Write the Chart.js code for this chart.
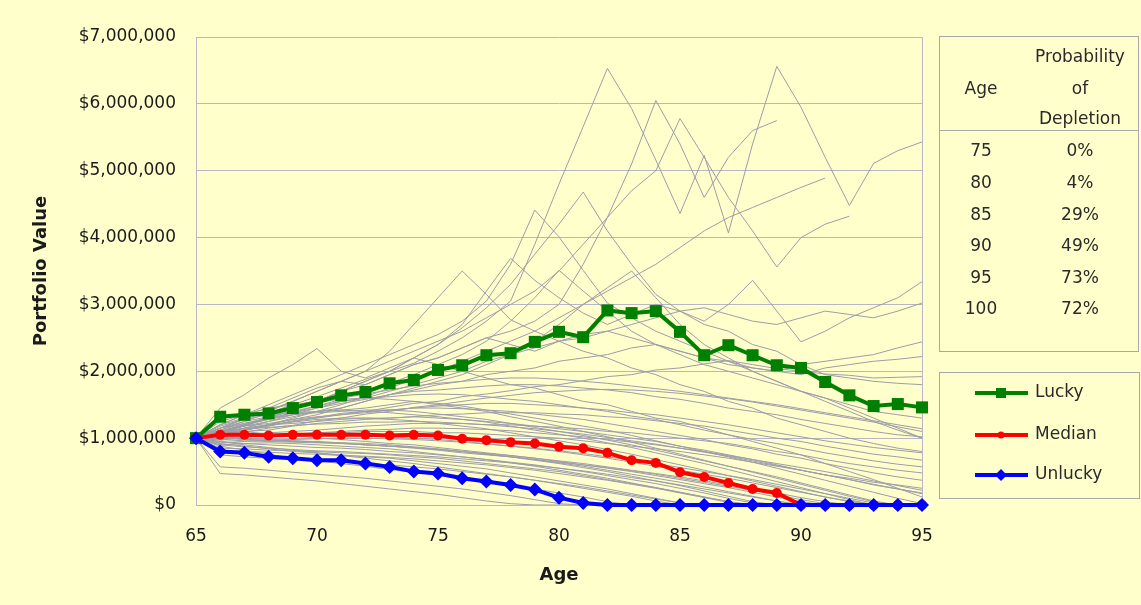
<!DOCTYPE html>
<html>
<head>
<meta charset="utf-8">
<script src="https://cdn.jsdelivr.net/npm/chart.js@4/dist/chart.umd.min.js"></script>
<style>
html,body{margin:0;padding:0;background:#FFFFCC;}
#wrap{width:1141px;height:605px;position:relative;}
canvas{display:block;}
</style>
</head>
<body>
<div id="wrap"><canvas id="c" width="1141" height="605"></canvas></div>
<script>
// ---- categories (age) ----
const ages = [65,66,67,68,69,70,71,72,73,74,75,76,77,78,79,80,81,82,83,84,85,86,87,88,89,90,91,92,93,94,95];

// ---- highlighted series (values in $ millions) ----
const lucky   = [1.00,1.32,1.35,1.37,1.45, 1.54,1.64,1.69,1.82,1.87, 2.02,2.09,2.24,2.27,2.44, 2.59,2.51,2.91,2.87,2.90, 2.59,2.24,2.39,2.24,2.09, 2.05,1.84,1.64,1.48,1.51, 1.46];
const median  = [1.00,1.05,1.05,1.04,1.05, 1.05,1.05,1.05,1.04,1.05, 1.04,0.99,0.97,0.94,0.92, 0.87,0.85,0.78,0.67,0.63, 0.49,0.42,0.33,0.24,0.18, 0,0,0,0,0, 0];
const unlucky = [1.00,0.80,0.78,0.72,0.70, 0.67,0.67,0.62,0.57,0.50, 0.47,0.40,0.35,0.30,0.23, 0.11,0.03,0,0,0, 0,0,0,0,0, 0,0,0,0,0, 0];
const seriesNames = ['Lucky','Median','Unlucky'];

// ---- simulated paths (values in $ millions) ----
const sim01 = [1.00,1.12,1.25,1.38,1.50, 1.62,1.75,1.88,2.00,2.12, 2.30,2.50,2.75,3.05,3.90, 4.80,5.66,6.53,5.93,5.16, 4.36,5.23,4.07,5.40,6.56, 5.95,5.20,4.48,5.11,5.30, 5.43];
const sim02 = [1.00,1.10,1.20,1.30,1.45, 1.55,1.70,1.80,1.95,2.10, 2.20,2.35,2.50,2.60,2.75, 3.00,3.60,4.30,5.10,6.05, 5.40,4.60,5.20,5.60,5.75, null,null,null,null,null, null];
const sim03 = [1.00,1.15,1.30,1.42,1.55, 1.70,1.85,2.00,2.15,2.30, 2.45,2.60,2.80,3.00,3.20, 3.50,3.90,4.30,4.70,5.00, 5.78,5.20,4.60,4.10,3.56, 4.00,4.20,4.32,null,null, null];
const sim04 = [1.00,1.05,1.12,1.20,1.30, 1.40,1.50,1.62,1.75,1.88, 2.00,2.15,2.30,2.45,2.60, 2.80,3.00,3.20,3.40,3.60, 3.85,4.10,4.30,4.45,4.60, 4.75,4.89,null,null,null, null];
const sim05 = [1.00,1.20,1.35,1.50,1.65, 1.80,1.95,2.10,2.25,2.40, 2.55,2.75,3.05,3.60,4.41, 4.01,3.51,3.02,2.80,2.60, 2.45,2.30,2.15,2.00,1.85, 1.70,1.55,1.40,1.25,1.12, 1.00];
const sim06 = [1.00,1.10,1.20,1.32,1.45, 1.55,1.70,1.85,2.00,2.20, 2.40,2.65,2.95,3.30,3.75, 4.20,4.68,4.10,3.60,3.15, 2.90,2.70,2.60,2.40,2.30, 2.10,1.95,1.90,1.85,1.82, 1.80];
const sim07 = [1.00,1.15,1.28,1.40,1.55, 1.70,1.85,2.00,2.30,2.70, 3.10,3.50,3.15,2.77,2.60, 2.45,2.30,2.20,2.05,1.95, 1.80,1.70,1.55,1.45,1.30, 1.20,1.10,1.00,0.92,0.85, 0.80];
const sim08 = [1.00,1.08,1.18,1.30,1.42, 1.55,1.70,1.85,2.00,2.20, 2.40,2.70,3.20,3.69,3.36, 3.10,2.87,2.70,2.85,3.00, 2.90,2.75,3.00,3.36,2.90, 2.44,2.60,2.80,2.95,3.10, 3.34];
const sim09 = [1.00,1.45,1.65,1.90,2.10, 2.34,2.00,1.90,2.05,2.20, 2.10,2.00,1.90,1.80,1.75, 1.65,1.55,1.50,1.40,1.30, 1.25,1.15,1.05,0.95,0.85, 0.75,0.62,0.50,0.38,0.25, 0.12];
const sim10 = [1.00,1.05,1.12,1.20,1.28, 1.35,1.45,1.55,1.65,1.75, 1.85,1.95,2.10,2.25,2.45, 2.70,3.00,3.25,3.50,3.10, 2.70,2.40,2.20,2.00,1.85, 1.70,1.60,1.50,1.40,1.35, 1.30];
const sim11 = [1.00,1.10,1.20,1.28,1.38, 1.48,1.58,1.70,1.82,1.95, 2.10,2.25,2.45,2.75,3.10, 3.51,3.20,2.90,2.60,2.40, 2.25,2.10,2.00,1.90,1.80, 1.70,1.60,1.45,1.30,1.15, 1.00];
const sim12 = [1.00,1.10,1.18,1.25,1.35, 1.45,1.55,1.60,1.70,1.80, 1.90,2.00,2.15,2.25,2.35, 2.45,2.50,2.60,2.70,2.80, 2.90,2.95,2.85,2.75,2.70, 2.80,2.90,2.85,2.80,2.90, 3.02];
const sim13 = [1.00,1.08,1.15,1.25,1.32, 1.40,1.45,1.55,1.65,1.72, 1.80,1.85,1.95,2.00,2.05, 2.15,2.20,2.25,2.35,2.40, 2.30,2.20,2.10,2.05,2.00, 2.10,2.15,2.20,2.25,2.35, 2.44];
const sim14 = [1.00,1.20,1.35,1.45,1.60, 1.75,1.85,1.80,1.95,2.10, 2.20,2.35,2.50,2.40,2.30, 2.45,2.55,2.60,2.50,2.40, 2.30,2.20,2.15,2.05,2.00, 1.95,2.05,2.10,2.15,2.18, 2.22];
const sim15 = [1.00,1.06,1.12,1.18,1.26, 1.31,1.37,1.40,1.46,1.52, 1.55,1.62,1.66,1.71,1.77, 1.80,1.86,1.92,1.95,2.02, 2.05,2.11,2.16,2.10,2.04, 2.00,1.96,1.94,1.90,1.91, 1.92];
const sim16 = [1.00,1.12,1.22,1.30,1.38, 1.45,1.52,1.58,1.65,1.70, 1.72,1.75,1.78,1.80,1.80, 1.78,1.75,1.72,1.68,1.62, 1.58,1.52,1.45,1.40,1.35, 1.28,1.22,1.16,1.10,1.05, 1.02];
const sim17 = [1.00,1.08,1.12,1.18,1.25, 1.30,1.35,1.38,1.42,1.45, 1.48,1.50,1.52,1.52,1.50, 1.48,1.45,1.42,1.38,1.35, 1.30,1.25,1.20,1.14,1.08, 1.02,0.96,0.91,0.86,0.82, 0.78];
const sim18 = [1.00,1.05,1.10,1.12,1.18, 1.22,1.25,1.28,1.30,1.32, 1.35,1.36,1.38,1.38,1.38, 1.36,1.35,1.32,1.30,1.26, 1.22,1.18,1.12,1.06,1.00, 0.95,0.88,0.82,0.76,0.72, 0.67];
const sim19 = [1.00,1.15,1.25,1.32,1.40, 1.48,1.55,1.60,1.62,1.65, 1.66,1.65,1.62,1.58,1.55, 1.50,1.45,1.40,1.33,1.28, 1.20,1.12,1.05,0.98,0.92, 0.85,0.78,0.72,0.66,0.61, 0.57];
const sim20 = [1.00,1.02,1.05,1.08,1.10, 1.12,1.15,1.18,1.20,1.22, 1.22,1.22,1.20,1.20,1.18, 1.16,1.14,1.10,1.08,1.04, 1.00,0.96,0.92,0.86,0.80, 0.75,0.68,0.62,0.57,0.52, 0.48];
const sim21 = [1.00,1.10,1.18,1.22,1.28, 1.32,1.35,1.40,1.42,1.45, 1.45,1.44,1.42,1.40,1.36, 1.32,1.28,1.22,1.16,1.10, 1.04,0.98,0.90,0.84,0.76, 0.70,0.62,0.55,0.48,0.42, 0.37];
const sim22 = [1.00,1.00,1.02,1.05,1.06, 1.08,1.08,1.10,1.10,1.10, 1.08,1.08,1.06,1.04,1.02, 1.00,0.96,0.92,0.88,0.84, 0.80,0.75,0.70,0.64,0.58, 0.52,0.45,0.40,0.34,0.30, 0.25];
const sim23 = [1.00,1.08,1.15,1.20,1.22, 1.25,1.28,1.30,1.30,1.32, 1.30,1.28,1.25,1.22,1.18, 1.14,1.10,1.05,1.00,0.95, 0.88,0.82,0.75,0.68,0.60, 0.52,0.45,0.38,0.30,0.24, 0.18];
const sim24 = [1.00,0.47,0.45,0.42,0.39, 0.36,0.32,0.28,0.24,0.20, 0.16,0.11,0.06,0.02,0, 0,0,0,0,0, 0,0,0,0,0, 0,0,0,0,0, 0];
const sim25 = [1.00,0.57,0.55,0.52,0.49, 0.46,0.43,0.40,0.36,0.32, 0.28,0.24,0.19,0.14,0.08, 0.02,0,0,0,0, 0,0,0,0,0, 0,0,0,0,0, 0];
const sim26 = [1.00,0.88,0.82,0.76,0.70, 0.66,0.62,0.58,0.53,0.49, 0.45,0.40,0.35,0.30,0.24, 0.18,0.12,0.05,0,0, 0,0,0,0,0, 0,0,0,0,0, 0];
const sim27 = [1.00,0.92,0.88,0.84,0.80, 0.78,0.75,0.72,0.70,0.66, 0.62,0.58,0.54,0.48,0.42, 0.36,0.30,0.24,0.17,0.10, 0.03,0,0,0,0, 0,0,0,0,0, 0];
const sim28 = [1.00,0.95,0.92,0.90,0.88, 0.86,0.85,0.83,0.80,0.78, 0.75,0.72,0.68,0.64,0.60, 0.55,0.50,0.44,0.38,0.32, 0.25,0.18,0.10,0.03,0, 0,0,0,0,0, 0];
const sim29 = [1.00,1.05,1.00,0.98,0.96, 0.95,0.93,0.90,0.88,0.86, 0.83,0.80,0.76,0.72,0.67, 0.62,0.56,0.50,0.43,0.36, 0.29,0.21,0.13,0.05,0, 0,0,0,0,0, 0];
const sim30 = [1.00,0.98,0.96,0.95,0.94, 0.93,0.92,0.90,0.88,0.85, 0.82,0.78,0.75,0.72,0.68, 0.64,0.60,0.56,0.51,0.46, 0.40,0.34,0.28,0.22,0.15, 0.08,0.02,0,0,0, 0];
const sim31 = [1.00,1.12,1.10,1.06,1.04, 1.00,0.98,0.95,0.92,0.90, 0.86,0.82,0.78,0.74,0.70, 0.65,0.60,0.55,0.50,0.44, 0.38,0.32,0.26,0.19,0.12, 0.05,0,0,0,0, 0];
const sim32 = [1.00,0.85,0.84,0.82,0.81, 0.80,0.78,0.77,0.75,0.72, 0.70,0.66,0.62,0.58,0.54, 0.50,0.44,0.38,0.32,0.26, 0.19,0.12,0.05,0,0, 0,0,0,0,0, 0];
const sim33 = [1.00,1.08,1.15,1.20,1.24, 1.28,1.30,1.30,1.28,1.26, 1.22,1.18,1.14,1.08,1.02, 0.96,0.90,0.83,0.76,0.68, 0.60,0.52,0.44,0.36,0.28, 0.20,0.12,0.05,0,0, 0];
const sim34 = [1.00,1.02,1.04,1.05,1.05, 1.05,1.04,1.03,1.02,1.00, 0.98,0.95,0.92,0.88,0.84, 0.80,0.75,0.70,0.64,0.58, 0.52,0.46,0.40,0.33,0.26, 0.19,0.12,0.06,0.01,0, 0];
const sim35 = [1.00,0.90,0.92,0.93,0.92, 0.90,0.88,0.86,0.84,0.80, 0.76,0.72,0.68,0.63,0.58, 0.52,0.46,0.40,0.33,0.26, 0.19,0.12,0.05,0,0, 0,0,0,0,0, 0];
const sim36 = [1.00,1.18,1.28,1.35,1.38, 1.40,1.42,1.40,1.38,1.35, 1.32,1.28,1.24,1.18,1.12, 1.06,1.00,0.93,0.86,0.78, 0.70,0.62,0.53,0.44,0.35, 0.26,0.17,0.08,0,0, 0];
const sim37 = [1.00,0.95,0.90,0.86,0.82, 0.78,0.74,0.70,0.66,0.62, 0.57,0.52,0.47,0.42,0.37, 0.31,0.25,0.19,0.13,0.06, 0,0,0,0,0, 0,0,0,0,0, 0];
const sim38 = [1.00,1.00,0.98,0.97,0.96, 0.94,0.92,0.90,0.88,0.86, 0.83,0.80,0.77,0.74,0.70, 0.66,0.62,0.57,0.52,0.47, 0.42,0.36,0.30,0.24,0.18, 0.11,0.05,0,0,0, 0];
const sim39 = [1.00,1.25,1.35,1.45,1.50, 1.55,1.58,1.60,1.58,1.55, 1.50,1.45,1.40,1.32,1.25, 1.18,1.10,1.02,0.94,0.85, 0.76,0.67,0.58,0.49,0.40, 0.31,0.22,0.13,0.05,0, 0];
const sim40 = [1.00,1.10,1.20,1.28,1.35, 1.40,1.42,1.45,1.50,1.55, 1.52,1.48,1.42,1.36,1.30, 1.24,1.18,1.12,1.04,0.96, 0.88,0.80,0.72,0.64,0.55, 0.46,0.37,0.28,0.19,0.10, 0.02];
const sim41 = [1.00,0.75,0.72,0.70,0.68, 0.66,0.64,0.62,0.60,0.57, 0.54,0.50,0.46,0.42,0.37, 0.32,0.27,0.21,0.15,0.09, 0.03,0,0,0,0, 0,0,0,0,0, 0];
const sim42 = [1.00,1.02,0.98,0.96,0.95, 0.94,0.93,0.92,0.90,0.87, 0.84,0.80,0.76,0.72,0.68, 0.63,0.58,0.52,0.46,0.40, 0.34,0.27,0.20,0.13,0.06, 0,0,0,0,0, 0];
const sim43 = [1.00,1.15,1.22,1.30,1.35, 1.38,1.40,1.42,1.42,1.40, 1.36,1.32,1.28,1.22,1.16, 1.10,1.04,0.97,0.90,0.82, 0.74,0.66,0.58,0.50,0.42, 0.33,0.24,0.15,0.06,0, 0];
const sim44 = [1.00,0.93,0.95,0.97,0.98, 0.99,1.00,1.00,0.99,0.98, 0.96,0.94,0.91,0.88,0.85, 0.81,0.77,0.72,0.67,0.62, 0.56,0.50,0.44,0.38,0.31, 0.24,0.17,0.10,0.03,0, 0];
const sim45 = [1.00,1.10,1.14,1.16,1.19, 1.21,1.22,1.24,1.24,1.25, 1.24,1.22,1.20,1.17,1.14, 1.10,1.06,1.01,0.96,0.91, 0.85,0.79,0.73,0.66,0.59, 0.52,0.45,0.38,0.31,0.24, 0.17];
const sim46 = [1.00,0.82,0.80,0.79,0.77, 0.76,0.74,0.73,0.71,0.69, 0.66,0.63,0.60,0.56,0.52, 0.47,0.42,0.37,0.31,0.25, 0.18,0.11,0.04,0,0, 0,0,0,0,0, 0];
const sim47 = [1.00,1.20,1.30,1.38,1.46, 1.52,1.60,1.66,1.72,1.78, 1.82,1.85,1.88,1.90,1.90, 1.88,1.85,1.82,1.78,1.74, 1.70,1.65,1.60,1.55,1.50, 1.44,1.38,1.32,1.26,1.20, 1.14];
const sim48 = [1.00,0.97,1.01,1.03,1.06, 1.08,1.10,1.12,1.13,1.15, 1.15,1.14,1.13,1.11,1.08, 1.05,1.02,0.98,0.94,0.90, 0.85,0.80,0.74,0.68,0.62, 0.56,0.50,0.43,0.36,0.29, 0.22];
const sim49 = [1.00,1.04,1.09,1.15,1.19, 1.26,1.30,1.36,1.40,1.46, 1.50,1.55,1.60,1.64,1.68, 1.70,1.72,1.73,1.72,1.70, 1.67,1.63,1.59,1.54,1.48, 1.42,1.36,1.30,1.24,1.17, 1.10];
const sim50 = [1.00,0.90,0.87,0.85,0.83, 0.81,0.80,0.78,0.76,0.74, 0.72,0.69,0.66,0.63,0.59, 0.55,0.51,0.46,0.41,0.36, 0.30,0.24,0.18,0.12,0.06, 0,0,0,0,0, 0];
const simPaths = [sim01,sim02,sim03,sim04,sim05,sim06,sim07,sim08,sim09,sim10,sim11,sim12,sim13,sim14,sim15,sim16,sim17,sim18,sim19,sim20,sim21,sim22,sim23,sim24,sim25,sim26,sim27,sim28,sim29,sim30,sim31,sim32,sim33,sim34,sim35,sim36,sim37,sim38,sim39,sim40,sim41,sim42,sim43,sim44,sim45,sim46,sim47,sim48,sim49,sim50];

// ---- depletion table ----
const tableAges  = ['75','80','85','90','95','100'];
const tableProbs = ['0%','4%','29%','49%','73%','72%'];
const tableHeaderAge  = 'Age';
const tableHeaderProb = ['Probability','of','Depletion'];

// ---- axis ----
const yMax = 7000000;
const yStep = 1000000;

const toDollars = arr => arr.map(v => v === null ? null : Math.round(v * 1000000));

const BG = '#FFFFCC';
const GRID = '#b6b6c6';
const GRAY = '#9d9da8';
const FONT = 'DejaVu Sans';
Chart.defaults.font.family = FONT;

const datasets = [];
datasets.push({label: seriesNames[2], data: toDollars(unlucky), borderColor:'#0000FF', backgroundColor:'#0000FF', borderWidth:4, pointStyle:'rectRot', pointRadius:7, pointBorderWidth:0, order:0, clip:false});
datasets.push({label: seriesNames[1], data: toDollars(median), borderColor:'#FF0000', backgroundColor:'#FF0000', borderWidth:4, pointStyle:'circle', pointRadius:5, pointBorderWidth:0, order:1, clip:false});
datasets.push({label: seriesNames[0], data: toDollars(lucky), borderColor:'#008000', backgroundColor:'#008000', borderWidth:4, pointStyle:'rect', pointRadius:8.5, pointBorderWidth:0, order:2, clip:false});
simPaths.forEach((p, i) => datasets.push({label: 'sim' + (i+1), data: toDollars(p), borderColor: GRAY, borderWidth: 1, pointRadius: 0, order: 10, spanGaps:false}));

const bgPlugin = {
  id: 'bg',
  beforeDraw(chart) {
    const ctx = chart.ctx;
    ctx.save();
    ctx.fillStyle = BG;
    ctx.fillRect(0, 0, chart.width, chart.height);
    ctx.restore();
  }
};

function drawMarker(ctx, style, x, y, r, color) {
  ctx.fillStyle = color;
  ctx.beginPath();
  if (style === 'rect') {
    ctx.rect(x - r, y - r, 2*r, 2*r);
  } else if (style === 'rectRot') {
    ctx.moveTo(x - r, y); ctx.lineTo(x, y - r); ctx.lineTo(x + r, y); ctx.lineTo(x, y + r); ctx.closePath();
  } else {
    ctx.arc(x, y, r, 0, Math.PI*2);
  }
  ctx.fill();
}

const sidePlugin = {
  id: 'side',
  afterDraw(chart) {
    const ctx = chart.ctx;
    ctx.save();
    // table box
    ctx.strokeStyle = '#a8a8a8';
    ctx.lineWidth = 1;
    ctx.strokeRect(939.5, 36.5, 199, 315);
    ctx.beginPath(); ctx.moveTo(939.5, 130.5); ctx.lineTo(1138.5, 130.5); ctx.stroke();
    ctx.fillStyle = '#2a2a2a';
    ctx.font = '17px "' + FONT + '"';
    ctx.textAlign = 'center';
    ctx.textBaseline = 'middle';
    ctx.fillText(tableHeaderAge, 981, 90);
    ctx.fillText(tableHeaderProb[0], 1080, 58);
    ctx.fillText(tableHeaderProb[1], 1080, 90);
    ctx.fillText(tableHeaderProb[2], 1080, 120);
    tableAges.forEach((a, i) => {
      const y = 152 + i * 31.6;
      ctx.fillText(a, 981, y);
      ctx.fillText(tableProbs[i], 1080, y);
    });
    // legend box
    ctx.strokeRect(939.5, 372.5, 200, 126);
    const items = [chart.data.datasets[2], chart.data.datasets[1], chart.data.datasets[0]];
    const ys = [393, 435, 475];
    const mr = {rect: 5, circle: 3.5, rectRot: 6};
    items.forEach((ds, i) => {
      const y = ys[i];
      ctx.strokeStyle = ds.borderColor;
      ctx.lineWidth = 4;
      ctx.beginPath(); ctx.moveTo(975, y); ctx.lineTo(1028, y); ctx.stroke();
      drawMarker(ctx, ds.pointStyle, 1001, y, mr[ds.pointStyle], ds.borderColor);
      ctx.fillStyle = '#2a2a2a';
      ctx.textAlign = 'left';
      ctx.fillText(ds.label, 1035, y);
    });
    ctx.restore();
  }
};

new Chart(document.getElementById('c'), {
  type: 'line',
  data: { labels: ages, datasets },
  options: {
    responsive: false,
    animation: false,
    devicePixelRatio: 1,
    layout: { padding: { left: 0, top: 37, right: 219, bottom: 0 } },
    elements: { line: { tension: 0 } },
    plugins: { legend: { display: false }, tooltip: { enabled: false } },
    scales: {
      x: {
        type: 'category',
        offset: false,
        afterFit(s) { s.height = 100; },
        grid: {
          color: (c) => (c.index === 0 || c.index === ages.length - 1) ? GRID : 'rgba(0,0,0,0)',
          drawTicks: false,
          lineWidth: 1
        },
        border: { display: true, color: GRID, width: 1 },
        ticks: {
          autoSkip: false,
          maxRotation: 0,
          padding: 21,
          color: '#1a1a1a',
          font: { size: 17 },
          callback(v, i) { const a = ages[i]; return a % 5 === 0 ? String(a) : ''; }
        },
        title: { display: true, text: 'Age', color: '#1a1a1a', font: { size: 18, weight: 'bold' }, padding: { top: 0, bottom: 19 } }
      },
      y: {
        min: 0,
        max: yMax,
        afterFit(s) { s.width = 196; },
        grid: { color: GRID, drawTicks: false, lineWidth: 1 },
        border: { display: true, color: GRID, width: 1 },
        ticks: {
          stepSize: yStep,
          padding: 20,
          color: '#1a1a1a',
          font: { size: 17 },
          callback(v) { return '$' + Number(v).toLocaleString('en-US'); }
        },
        title: { display: true, text: 'Portfolio Value', color: '#1a1a1a', font: { size: 18, weight: 'bold' }, padding: { top: 31, bottom: 0 } }
      }
    }
  },
  plugins: [bgPlugin, sidePlugin]
});
</script>
</body>
</html>
